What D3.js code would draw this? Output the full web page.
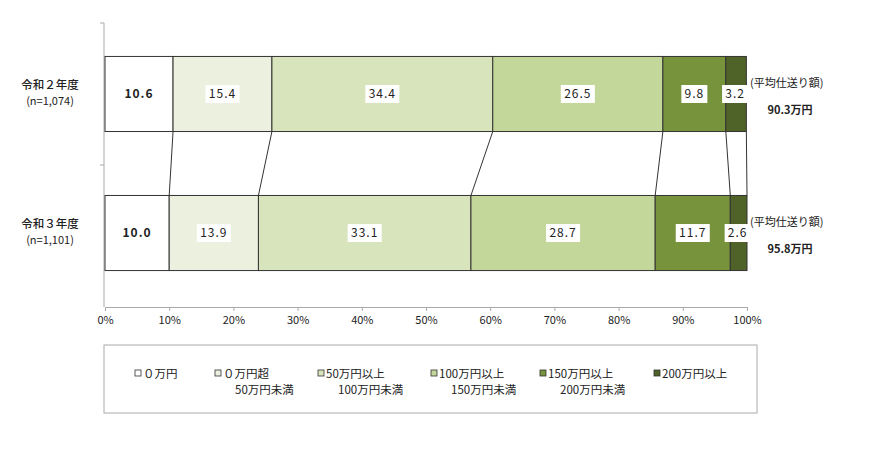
<!DOCTYPE html>
<html>
<head>
<meta charset="utf-8">
<script src="https://cdn.jsdelivr.net/npm/d3@7"></script>
<style>
  body { margin: 0; background: #fff; }
  text { font-family: "Noto Sans CJK JP", "Noto Sans", sans-serif; fill: #222; }
</style>
</head>
<body>
<svg id="chart" width="870" height="452"></svg>
<script>
// 年度ごとの仕送り額の構成比（%）
var years = ["令和２年度", "令和３年度"];
var counts = ["(n=1,074)", "(n=1,101)"];
var bands = ["０万円", "０万円超\n50万円未満", "50万円以上\n100万円未満", "100万円以上\n150万円未満", "150万円以上\n200万円未満", "200万円以上"];
var r2Values = [10.6, 15.4, 34.4, 26.5, 9.8, 3.2];
var r3Values = [10.0, 13.9, 33.1, 28.7, 11.7, 2.6];
var averages = ["90.3万円", "95.8万円"];
var xTicks = [0, 10, 20, 30, 40, 50, 60, 70, 80, 90, 100];
var colors = ["#ffffff", "#ebf1de", "#d8e4bc", "#c4d79b", "#77933c", "#4f6228"];

var svg = d3.select("#chart");
var x = d3.scaleLinear().domain([0, 100]).range([105, 747]);
var y = d3.scaleBand().domain(years).range([21, 306]).paddingInner(0.46).paddingOuter(0.255);

var rows = [r2Values, r3Values].map(function (vals, i) {
    var acc = 0;
    return vals.map(function (v, j) {
        var s = { year: years[i], idx: j, value: v, x0: acc, x1: acc + v };
        acc += v;
        return s;
    });
});

// 縦軸
svg.append("line").attr("x1", 104).attr("x2", 104).attr("y1", 23).attr("y2", 307)
    .attr("stroke", "#aaa");
[23, 165].forEach(function (t) {
    svg.append("line").attr("x1", 100).attr("x2", 104).attr("y1", t).attr("y2", t).attr("stroke", "#aaa");
});

// 横軸
var xAxis = svg.append("g").attr("transform", "translate(0,307)")
    .call(d3.axisBottom(x).tickValues(xTicks).tickSize(4).tickFormat(function (d) { return d + "%"; }));
xAxis.select(".domain").attr("stroke", "#aaa");
xAxis.selectAll(".tick line").attr("stroke", "#aaa");
xAxis.selectAll("text").attr("font-size", 11).attr("fill", "#333").attr("dy", "0.9em");

// 年度間の区切り線
var bounds = rows[0].map(function (s, j) { return [s.x1, rows[1][j].x1]; });
svg.append("g").selectAll("line").data(bounds).join("line")
    .attr("x1", function (d) { return x(Math.min(d[0], 100)); })
    .attr("x2", function (d) { return x(Math.min(d[1], 100)); })
    .attr("y1", y(years[0]) + y.bandwidth())
    .attr("y2", y(years[1]))
    .attr("stroke", "#333").attr("stroke-width", 1);

// 帯グラフ
rows.forEach(function (row, i) {
    var g = svg.append("g");
    g.selectAll("rect").data(row).join("rect")
        .attr("x", function (d) { return x(d.x0); })
        .attr("width", function (d) { return x(d.x1) - x(d.x0); })
        .attr("y", y(years[i]))
        .attr("height", y.bandwidth())
        .attr("fill", function (d) { return colors[d.idx]; })
        .attr("stroke", "#333").attr("stroke-width", 1);

    var cy = y(years[i]) + y.bandwidth() / 2;
    var lab = g.selectAll("g.lab").data(row).join("g").attr("class", "lab")
        .attr("transform", function (d) {
            var cx = (x(d.x0) + x(d.x1)) / 2;
            if (d.idx === 5) cx -= 1;
            return "translate(" + cx + "," + cy + ")";
        });
    lab.filter(function (d) { return d.idx > 0; }).append("rect")
        .attr("x", function (d) { return d.value >= 10 ? -17 : -13; })
        .attr("width", function (d) { return d.value >= 10 ? 34 : 26; })
        .attr("y", -9).attr("height", 18).attr("fill", "#fff");
    lab.append("text")
        .attr("text-anchor", "middle").attr("dy", "0.36em")
        .attr("font-size", 12)
        .attr("letter-spacing", 1)
        .attr("font-weight", function (d) { return d.idx === 0 ? "bold" : "normal"; })
        .text(function (d) { return d.value.toFixed(1); });

    // 年度ラベル
    svg.append("text").attr("x", 50).attr("y", cy - 5).attr("text-anchor", "middle")
        .attr("font-size", 11.5).attr("font-weight", 500).text(years[i]);
    svg.append("text").attr("x", 50).attr("y", cy + 11).attr("text-anchor", "middle")
        .attr("font-size", 11).attr("fill", "#444").text(counts[i]);

    // 平均仕送り額
    svg.append("text").attr("x", 750).attr("y", cy - 7)
        .attr("font-size", 11).text("(平均仕送り額)");
    svg.append("text").attr("x", 790).attr("y", cy + 20).attr("text-anchor", "middle")
        .attr("font-size", 11).attr("font-weight", "bold").text(averages[i]);
});

// 凡例
svg.append("rect").attr("x", 104).attr("y", 345).attr("width", 653).attr("height", 68)
    .attr("fill", "#fff").attr("stroke", "#aaa");
var legendX = [135, 215, 318, 431, 540, 654];
var leg = svg.append("g").selectAll("g").data(bands).join("g")
    .attr("transform", function (d, i) { return "translate(" + legendX[i] + ",378)"; });
leg.append("rect").attr("x", 0).attr("y", -8).attr("width", 6).attr("height", 6)
    .attr("fill", function (d, i) { return colors[i]; }).attr("stroke", "#333").attr("stroke-width", 0.8);
leg.each(function (d) {
    var parts = d.split("\n");
    var t = d3.select(this);
    t.append("text").attr("x", 8).attr("y", 0).attr("font-size", 11.5).text(parts[0]);
    if (parts[1]) {
        t.append("text").attr("x", 20).attr("y", 16).attr("font-size", 11.5).text(parts[1]);
    }
});
</script>
</body>
</html>
